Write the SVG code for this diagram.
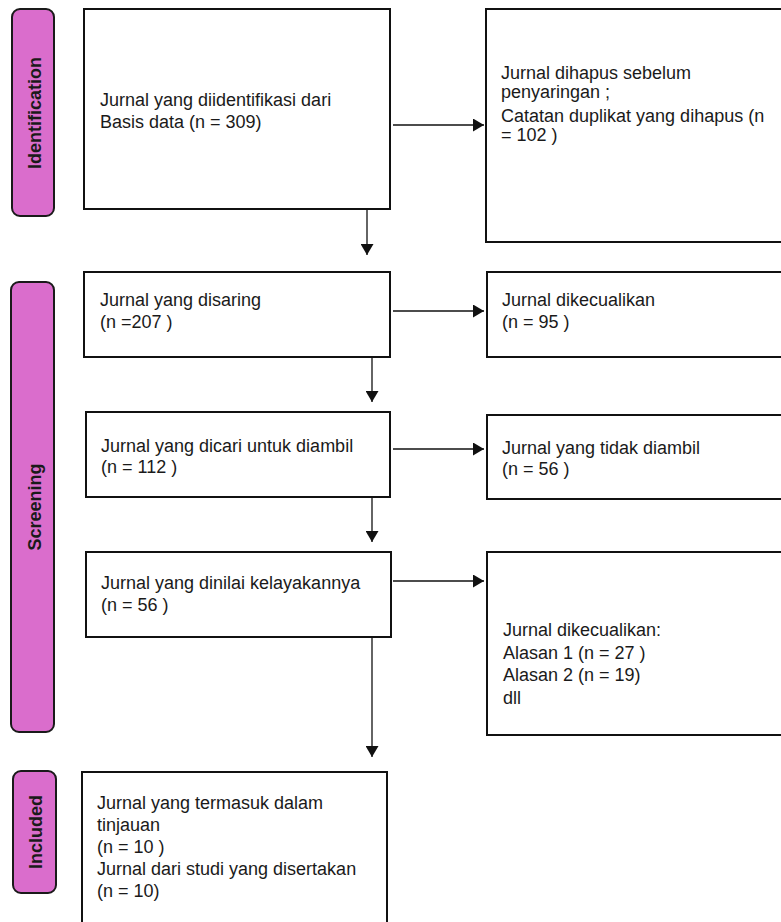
<svg xmlns="http://www.w3.org/2000/svg" width="781" height="922" viewBox="0 0 781 922">
<defs>
<style>
.box{fill:#fff;stroke:#111;stroke-width:2}
.pill{fill:#DA6DCC;stroke:#1a1a1a;stroke-width:2}
.t{font-family:"Liberation Sans",Arial,sans-serif;font-size:18px;fill:#1a1a1a}
.pt{font-family:"Liberation Sans",Arial,sans-serif;font-size:18px;font-weight:bold;fill:#1a1a1a;text-anchor:middle}
.c{stroke:#111;stroke-width:1.3;fill:none;marker-end:url(#ah)}
</style>
<marker id="ah" markerUnits="userSpaceOnUse" markerWidth="12" markerHeight="13" refX="11" refY="6.5" orient="auto">
<path d="M0,0 L11,6.5 L0,13 Z" fill="#111"/>
</marker>
</defs>
<rect width="781" height="922" fill="#fff"/>

<g id="phase-identification">
<rect class="pill" x="12" y="9" width="42" height="207" rx="8"/>
<text class="pt" transform="translate(41,113) rotate(-90)">Identification</text>
</g>
<g id="phase-screening">
<rect class="pill" x="11" y="282" width="43" height="450" rx="8"/>
<text class="pt" transform="translate(41,507) rotate(-90)">Screening</text>
</g>
<g id="phase-included">
<rect class="pill" x="13" y="771" width="43" height="122" rx="8"/>
<text class="pt" transform="translate(42,832) rotate(-90)">Included</text>
</g>

<g id="n-identified">
<rect class="box" x="84" y="9" width="306" height="200"/>
<text class="t" x="100" y="106">Jurnal yang diidentifikasi dari</text>
<text class="t" x="100" y="128">Basis data (n = 309)</text>
</g>
<g id="n-removed">
<rect class="box" x="486" y="9" width="300" height="233"/>
<text class="t" x="501" y="79">Jurnal dihapus sebelum</text>
<text class="t" x="501" y="98">penyaringan ;</text>
<text class="t" x="501" y="122">Catatan duplikat yang dihapus (n</text>
<text class="t" x="501" y="141">= 102 )</text>
</g>
<g id="n-screened">
<rect class="box" x="84" y="272" width="306" height="85"/>
<text class="t" x="100" y="306">Jurnal yang disaring</text>
<text class="t" x="100" y="328">(n =207 )</text>
</g>
<g id="n-excluded1">
<rect class="box" x="487" y="272" width="300" height="85"/>
<text class="t" x="502" y="306">Jurnal dikecualikan</text>
<text class="t" x="502" y="328">(n = 95 )</text>
</g>
<g id="n-sought">
<rect class="box" x="86" y="412" width="304" height="85"/>
<text class="t" x="101" y="452">Jurnal yang dicari untuk diambil</text>
<text class="t" x="101" y="473">(n = 112 )</text>
</g>
<g id="n-notretrieved">
<rect class="box" x="487" y="415" width="300" height="84"/>
<text class="t" x="502" y="454">Jurnal yang tidak diambil</text>
<text class="t" x="502" y="475">(n = 56 )</text>
</g>
<g id="n-assessed">
<rect class="box" x="86" y="552" width="305" height="85"/>
<text class="t" x="101" y="589">Jurnal yang dinilai kelayakannya</text>
<text class="t" x="101" y="611">(n = 56  )</text>
</g>
<g id="n-excluded2">
<rect class="box" x="487" y="552" width="300" height="183"/>
<text class="t" x="503" y="636">Jurnal dikecualikan:</text>
<text class="t" x="503" y="659">Alasan 1 (n = 27 )</text>
<text class="t" x="503" y="681">Alasan 2 (n = 19)</text>
<text class="t" x="503" y="704">dll</text>
</g>
<g id="n-included">
<rect class="box" x="82" y="772" width="305" height="160"/>
<text class="t" x="97" y="809">Jurnal yang termasuk dalam</text>
<text class="t" x="97" y="831">tinjauan</text>
<text class="t" x="97" y="853">(n = 10 )</text>
<text class="t" x="97" y="875">Jurnal dari studi yang disertakan</text>
<text class="t" x="97" y="897">(n = 10)</text>
</g>

<g id="connectors">
<path class="c" d="M393,125 H484"/>
<path class="c" d="M367,209 V255"/>
<path class="c" d="M393,311 H484"/>
<path class="c" d="M372,357 V402"/>
<path class="c" d="M393,449 H484"/>
<path class="c" d="M372,497 V542"/>
<path class="c" d="M393,581 H484"/>
<path class="c" d="M372,637 V757"/>
</g>
</svg>
